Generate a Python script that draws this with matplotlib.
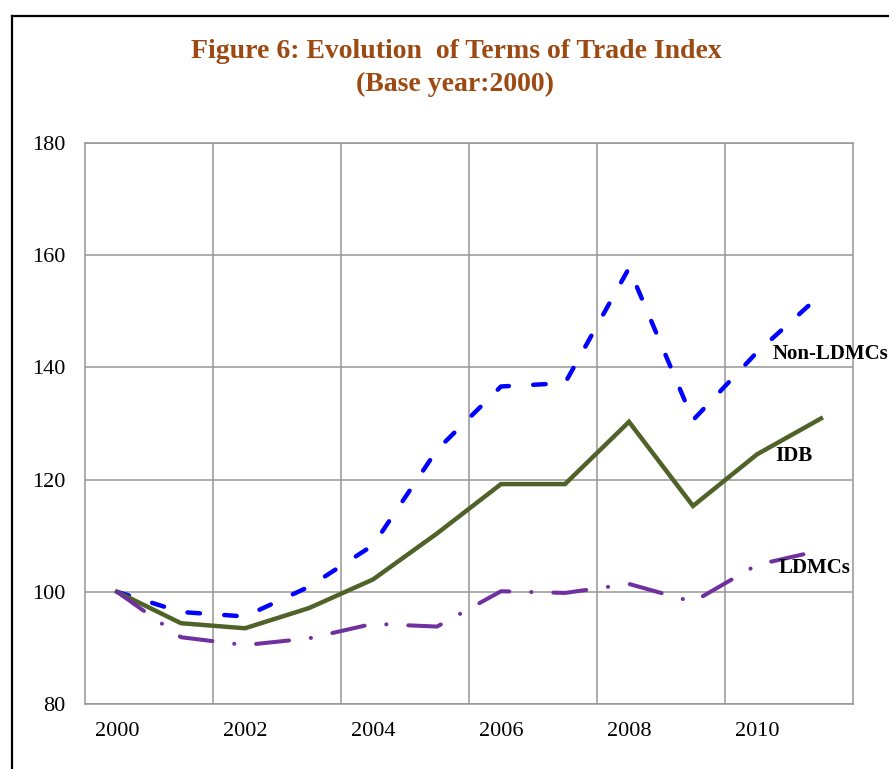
import numpy as np
import matplotlib.pyplot as plt
from matplotlib.lines import Line2D

plt.rcParams['lines.scale_dashes'] = False

years = np.arange(2000, 2012)
non_ldmcs = [100, 96.4, 95.6, 100.9, 108.3, 125.3, 136.6, 137.2, 157.7, 130.6, 142.7, 153.0]
idb = [100, 94.4, 93.5, 97.1, 102.2, 110.4, 119.2, 119.2, 130.3, 115.3, 124.5, 130.9]
ldmcs = [100, 91.9, 90.5, 91.7, 94.3, 93.8, 100.1, 99.8, 101.4, 98.2, 104.8, 107.4]

tick_years = [2000, 2002, 2004, 2006, 2008, 2010]
y_ticks = [80, 100, 120, 140, 160, 180]

title_col = '#9C4A12'
grid_col = '#969696'
serif = 'Liberation Serif'

fig = plt.figure(figsize=(8.89, 7.69), dpi=100)
ax = fig.add_axes([85/889, 65/769, 768/889, 561/769])

# frame around the figure (top and left edges visible)
fig.add_artist(Line2D([12/889, 1.0], [1 - 16/769, 1 - 16/769], color='black', lw=1.6))
fig.add_artist(Line2D([12/889, 12/889], [0.0, 1 - 16/769], color='black', lw=1.6))

ax.plot(years, non_ldmcs, color='#0000FF', lw=3.2, dashes=(9, 17.5), dash_capstyle='round')
ax.plot(years, idb, color='#4F6228', lw=3.2, solid_joinstyle='miter')
ax.plot(years, ldmcs, color='#7030A0', lw=2.9, dashes=(23.8, 15.8, 0.1, 15.8), dash_capstyle='round')

ax.set_xlim(1999.5, 2011.5)
ax.set_ylim(80, 180)
ax.set_xticks(tick_years)
ax.set_xticklabels([str(t) for t in tick_years])
ax.set_xticks(np.arange(2001.5, 2011, 2), minor=True)
ax.set_yticks(y_ticks)
ax.tick_params(which='both', length=0)
ax.tick_params(axis='x', pad=13)
ax.tick_params(axis='y', pad=14)
for lab in ax.get_xticklabels() + ax.get_yticklabels():
    lab.set_fontfamily(serif)
    lab.set_fontsize(16)
ax.grid(True, axis='y', which='major', color=grid_col, lw=1.1)
ax.grid(True, axis='x', which='minor', color=grid_col, lw=1.1)
for s in ax.spines.values():
    s.set_color(grid_col)
    s.set_linewidth(1.1)
ax.set_axisbelow(True)

# series labels
ax.text(2010.25, 142.4, 'Non-LDMCs', fontsize=15, fontweight='bold', family=serif,
        va='center', ha='left', clip_on=False)
ax.text(2010.28, 124.2, 'IDB', fontsize=15, fontweight='bold', family=serif,
        va='center', ha='left')
ax.text(2010.34, 104.2, 'LDMCs', fontsize=15, fontweight='bold', family=serif,
        va='center', ha='left')

fig.text(456/889, 1 - 51/769, 'Figure 6: Evolution  of Terms of Trade Index', color=title_col,
         fontsize=20, fontweight='bold', family=serif, ha='center', va='center')
fig.text(455/889, 1 - 84/769, '(Base year:2000)', color=title_col,
         fontsize=20, fontweight='bold', family=serif, ha='center', va='center')

fig.savefig('out.png', dpi=100)
